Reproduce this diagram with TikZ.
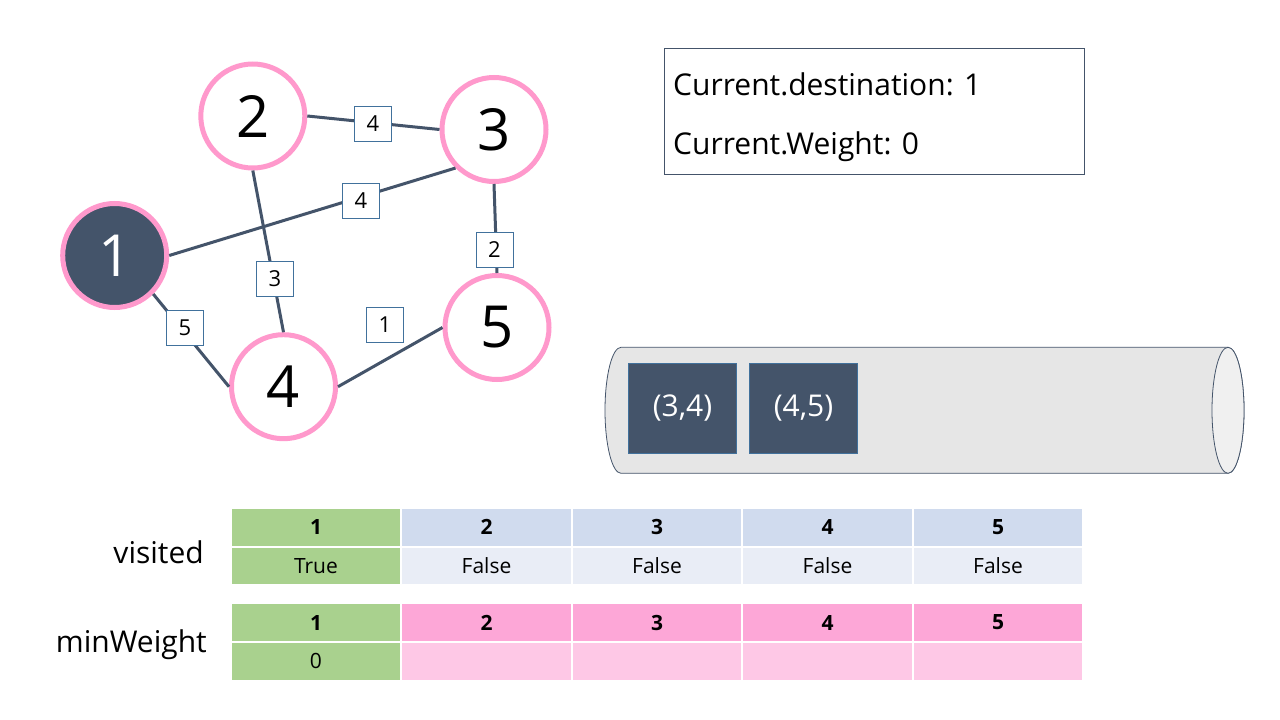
\documentclass[tikz,border=0pt]{standalone}
\usepackage{fontspec}
\setmainfont{Open Sans}
\definecolor{slate}{HTML}{44546A}
\definecolor{pinkc}{HTML}{FF99CC}
\definecolor{boxblue}{HTML}{41719C}
\definecolor{greenc}{HTML}{A9D18E}
\definecolor{bluehead}{HTML}{D0DBEE}
\definecolor{bluebody}{HTML}{E9EDF6}
\definecolor{pinkhead}{HTML}{FDA7D7}
\definecolor{pinkbody}{HTML}{FEC8E6}
\definecolor{cylfill}{HTML}{E6E6E6}
\definecolor{cylend}{HTML}{F0F0F0}
\begin{document}
\begin{tikzpicture}[x=1pt,y=-1pt,
  vert/.style={circle, draw=pinkc, line width=5pt, minimum size=104pt, inner sep=0pt, fill=white, font=\fontsize{58}{60}\selectfont},
  edge/.style={draw=slate, line width=3pt},
  wlabel/.style={draw=boxblue, line width=1pt, fill=white, minimum width=37pt, minimum height=35pt, inner sep=0pt, font=\fontsize{22}{24}\selectfont},
  bigtext/.style={font=\fontsize{30}{36}\selectfont, inner sep=0pt},
  qitem/.style={fill=slate, draw=boxblue, line width=0.75pt, minimum width=108pt, minimum height=90pt, inner sep=0pt, text=white, font=\fontsize{30}{36}\selectfont},
  cell/.style={draw=white, line width=2pt, minimum width=170.5pt, minimum height=38.7pt, inner sep=0pt, font=\fontsize{21}{24}\selectfont},
  hcell/.style={cell, font=\fontsize{21}{24}\selectfont\bfseries}
]
\useasboundingbox (0,0) rectangle (1280,720);
\fill[white] (0,0) rectangle (1280,720);

% graph vertices
\node[vert, fill=slate, text=white] (n1) at (114.7,255.5) {1};
\node[vert] (n2) at (252.8,116) {2};
\node[vert] (n3) at (494,129.5) {3};
\node[vert] (n4) at (283.5,386.7) {4};
\node[vert] (n5) at (497,327.5) {5};

% edges
\draw[edge] (n2.east) -- (n3.west);
\draw[edge] (n1.east) -- (n3.south west);
\draw[edge] (n2.south) -- (n4.north);
\draw[edge] (n1.south east) -- (n4.west);
\draw[edge] (n3.south) -- (n5.north);
\draw[edge] (n4.east) -- (n5.west);

% weight labels
\node[wlabel] (w23) at (373,124) {4};
\node[wlabel] (w13) at (361,201) {4};
\node[wlabel] (w35) at (494.5,250) {2};
\node[wlabel] (w24) at (275,279) {3};
\node[wlabel] (w14) at (185,328) {5};
\node[wlabel] (w45) at (385,325) {1};

% info box
\node[draw=slate, line width=1pt, minimum width=420pt, minimum height=126pt, inner sep=0pt] (info) at (874.3,111.3) {};
\node[bigtext, anchor=base west] (cdest) at (673,95) {Current.destination: 1};
\node[bigtext, anchor=base west] (cw) at (673,154) {Current.Weight: 0};

% cylinder (queue)
\path[fill=cylfill, draw=slate, line width=0.8pt]
  (621,347.3) -- (1228,347.3) arc(-90:90:16 and 63) -- (621,473.3) arc(90:270:16 and 63) -- cycle;
\draw[fill=cylend, draw=slate, line width=0.8pt] (1228,410.3) ellipse (16 and 63);
\node[qitem] (q1) at (682.5,408.3) {(3,4)};
\node[qitem] (q2) at (803.5,408.3) {(4,5)};

% labels of tables
\node[bigtext, anchor=base east] (lvis) at (204,563) {visited};
\node[bigtext, anchor=base east] (lmin) at (207,652) {minWeight};

% visited table
\node[hcell, fill=greenc] (vh1) at (316.0,527.3) {1};
\node[hcell, fill=bluehead] (vh2) at (486.5,527.3) {2};
\node[hcell, fill=bluehead] (vh3) at (657.0,527.3) {3};
\node[hcell, fill=bluehead] (vh4) at (827.5,527.3) {4};
\node[hcell, fill=bluehead] (vh5) at (998.0,527.3) {5};
\node[cell, fill=greenc] (vb1) at (316.0,566.0) {True};
\node[cell, fill=bluebody] (vb2) at (486.5,566.0) {False};
\node[cell, fill=bluebody] (vb3) at (657.0,566.0) {False};
\node[cell, fill=bluebody] (vb4) at (827.5,566.0) {False};
\node[cell, fill=bluebody] (vb5) at (998.0,566.0) {False};

% minWeight table
\node[hcell, fill=greenc] (mh1) at (316.0,622.5) {1};
\node[hcell, fill=pinkhead] (mh2) at (486.5,622.5) {2};
\node[hcell, fill=pinkhead] (mh3) at (657.0,622.5) {3};
\node[hcell, fill=pinkhead] (mh4) at (827.5,622.5) {4};
\node[hcell, fill=pinkhead] (mh5) at (998.0,622.5) {5};
\node[cell, fill=greenc] (mb1) at (316.0,661.2) {0};
\node[cell, fill=pinkbody] (mb2) at (486.5,661.2) {};
\node[cell, fill=pinkbody] (mb3) at (657.0,661.2) {};
\node[cell, fill=pinkbody] (mb4) at (827.5,661.2) {};
\node[cell, fill=pinkbody] (mb5) at (998.0,661.2) {};
\end{tikzpicture}
\end{document}
